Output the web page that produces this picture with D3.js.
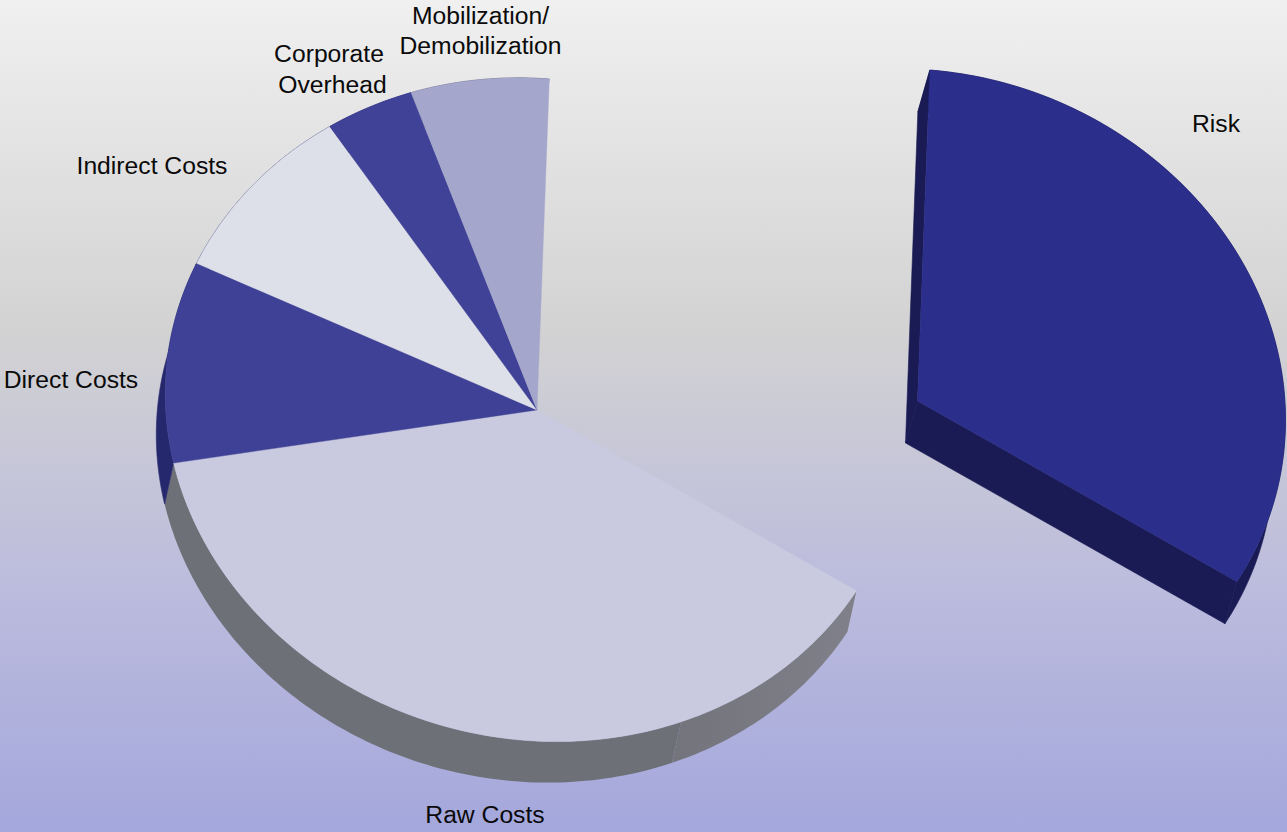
<!DOCTYPE html>
<html>
<head>
<meta charset="utf-8">
<title>Cost breakdown</title>
<script src="https://cdn.jsdelivr.net/npm/d3@7/dist/d3.min.js"></script>
<style>
html,body{margin:0;padding:0;background:#fff}
svg{display:block}
text{font-family:"Liberation Sans",Arial,sans-serif;fill:#0a0a0a;font-size:24.7px;text-anchor:middle}
</style>
</head>
<body>
<svg id="chart" width="1287" height="832"></svg>
<script>
// Share of total cost per category, in percent, clockwise from the top.
const categories = ["Risk", "Raw Costs", "Direct Costs", "Indirect Costs", "Corporate Overhead", "Mobilization/ Demobilization"];
const shares = [32.6, 38.2, 9.9, 9.2, 4.0, 6.1];
const labelLines = [["Risk"], ["Raw Costs"], ["Direct Costs"], ["Indirect Costs"], ["Corporate", "Overhead"], ["Mobilization/", "Demobilization"]];

const faceColors = ["#2b2e8b", "#c9cadf", "#3e4195", "#dddfe9", "#3f4296", "#a5a6cb"];
const wallColors = ["#1a1b54", "#6e7078", "#26286e", "#26286e", "#26286e", "#5f6080"];

// Baseline position of each label line.
const labelAnchors = [
  [[1216, 132]],
  [[485, 823]],
  [[71, 388]],
  [[152, 174]],
  [[329, 61.5], [332.5, 92.5]],
  [[480.5, 24], [480.5, 54]]
];

const width = 1287, height = 832;
const deg = Math.PI / 180;
const startAngle = 2.3 * deg;
const rawWallSeam = 156.7 * deg;

// Tilted-disc projection: unit-circle coordinates through two linear scales.
const xScale = d3.scaleLinear().domain([-1, 1]).range([164, 905]);
const yScale = d3.scaleLinear().domain([-1, 1]).range([77, 741]);
const tilt = 20;
const apex = [537, 410];
const depths = [[-12, 42], [-9, 41], [-9, 41], [-9, 41], [-9, 41], [-9, 41]];
const explode = [[380.5, -9], [0, 0], [0, 0], [0, 0], [0, 0], [0, 0]];

// The far-left part of the disc recedes slightly, pulling its rim inward.
const recede = a => {
  const c = Math.max(0, Math.cos(a - 315 * deg));
  return 1 - 0.014 * c * c * c * c;
};
const rimPoint = (a, off, sink) => {
  const k = recede(a);
  const ex = xScale(Math.sin(a)), ey = yScale(-Math.cos(a)) + tilt * Math.sin(a);
  return [
    apex[0] + (ex - apex[0]) * k + off[0] + (sink ? sink[0] : 0),
    apex[1] + (ey - apex[1]) * k + off[1] + (sink ? sink[1] : 0)
  ];
};
const apexPoint = (off, sink) => [
  apex[0] + off[0] + (sink ? sink[0] : 0),
  apex[1] + off[1] + (sink ? sink[1] : 0)
];
const arcSamples = (a0, a1) => {
  const n = Math.max(2, Math.ceil((a1 - a0) / (1 * deg)));
  return d3.range(n + 1).map(i => a0 + (a1 - a0) * i / n);
};
const line = d3.line();

const svg = d3.select("#chart");
const defs = svg.append("defs");

const grad = defs.append("linearGradient")
  .attr("id", "backdrop").attr("x1", 0).attr("y1", 0).attr("x2", 0).attr("y2", 1);
[[0, "#f0f0f0"], [0.4, "#d2d2d3"], [0.7, "#bcbcdd"], [1, "#a4a7dc"]].forEach(([o, c]) =>
  grad.append("stop").attr("offset", o).attr("stop-color", c));
svg.append("rect").attr("width", width).attr("height", height).attr("fill", "url(#backdrop)");

// The near-right stretch of the raw-cost wall catches a little more light.
const wallLight = defs.append("linearGradient")
  .attr("id", "wallLight").attr("gradientUnits", "userSpaceOnUse")
  .attr("x1", xScale(0.4)).attr("x2", xScale(0.86)).attr("y1", 0).attr("y2", 0);
[[0, "#73747c"], [1, "#7f8089"]].forEach(([o, c]) =>
  wallLight.append("stop").attr("offset", o).attr("stop-color", c));

const slices = d3.pie().sort(null).startAngle(startAngle).endAngle(startAngle + 2 * Math.PI)(shares);

// Outer wall of a slice between two angles, extruded along the depth vector.
const wallPath = (a0, a1, off, sink) => {
  const as = arcSamples(a0, a1);
  return line(as.map(a => rimPoint(a, off)).concat(as.slice().reverse().map(a => rimPoint(a, off, sink)))) + "Z";
};
const cutPath = (a, off, sink) => line([apexPoint(off), rimPoint(a, off), rimPoint(a, off, sink), apexPoint(off, sink)]) + "Z";
const facePath = (a0, a1, off) => line([apexPoint(off)].concat(arcSamples(a0, a1).map(a => rimPoint(a, off)))) + "Z";

const pieGroup = svg.append("g");

// Walls first, so the top faces cover whatever part of them is hidden.
const walls = pieGroup.append("g");
slices.forEach((s, i) => {
  const off = explode[i], sink = depths[i];
  if (i === 1) {
    walls.append("path").attr("d", wallPath(s.startAngle, rawWallSeam, off, sink)).attr("fill", "url(#wallLight)");
    walls.append("path").attr("d", wallPath(rawWallSeam, s.endAngle, off, sink)).attr("fill", wallColors[i]);
  } else {
    walls.append("path").attr("d", wallPath(s.startAngle, s.endAngle, off, sink))
      .attr("fill", wallColors[i]).attr("stroke", wallColors[i]).attr("stroke-width", 0.6);
  }
  if (i === 0) {
    walls.append("path").attr("d", cutPath(s.startAngle, off, sink))
      .attr("fill", wallColors[i]).attr("stroke", wallColors[i]).attr("stroke-width", 0.6);
    walls.append("path").attr("d", cutPath(s.endAngle, off, sink))
      .attr("fill", wallColors[i]).attr("stroke", wallColors[i]).attr("stroke-width", 0.6);
  }
});

pieGroup.append("g").selectAll("path").data(slices).join("path")
  .attr("d", (s, i) => facePath(s.startAngle, s.endAngle, explode[i]))
  .attr("fill", (s, i) => faceColors[i])
  .attr("stroke", (s, i) => faceColors[i])
  .attr("stroke-width", 0.4);

// Category labels, one text element per slice with a tspan per line.
const labels = svg.append("g").selectAll("text").data(labelLines).join("text");
labels.selectAll("tspan").data((d, i) => d.map((t, j) => ({ t, at: labelAnchors[i][j] }))).join("tspan")
  .attr("x", d => d.at[0])
  .attr("y", d => d.at[1])
  .text(d => d.t);
</script>
</body>
</html>
